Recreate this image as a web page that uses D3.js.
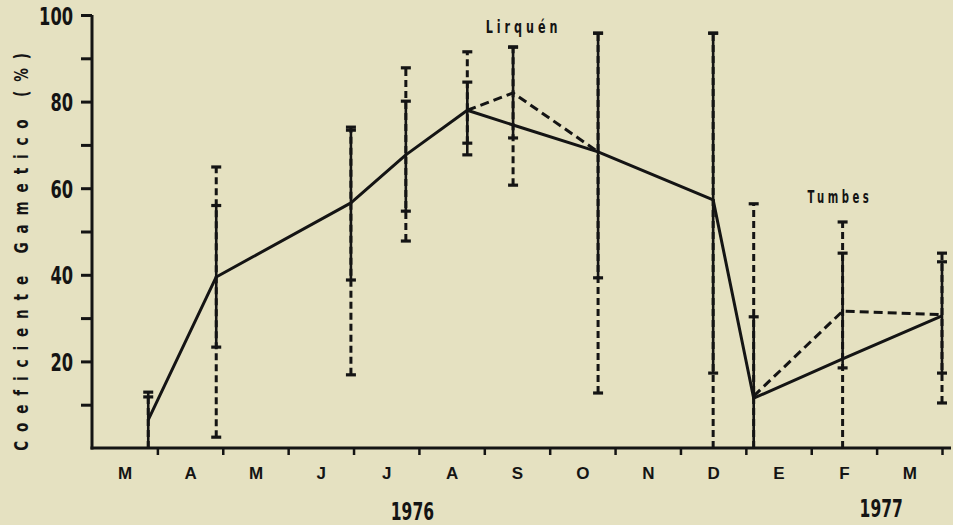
<!DOCTYPE html>
<html>
<head>
<meta charset="utf-8">
<script src="https://cdn.jsdelivr.net/npm/d3@7"></script>
<style>
  html, body { margin: 0; padding: 0; background: #e5e1c1; }
  svg { display: block; }
</style>
</head>
<body>
<svg id="chart" width="953" height="525"></svg>
<script>
// ---- data ----
const monthLabels = ["M", "A", "M", "J", "J", "A", "S", "O", "N", "D", "E", "F", "M"];
const yTicks = [10, 20, 30, 40, 50, 60, 70, 80, 90, 100];
const yTickLabels = [20, 40, 60, 80, 100];
// sampling positions, in months from 1 March 1976
const sampleMonth = [0.86, 1.90, 3.96, 4.80, 5.74, 6.44, 7.74, 9.50, 10.12, 11.48, 13.0];
const solidMean  = [6.5, 39.5, 56.6, 67.7, 78.0, 74.6, 68.4, 57.3, 11.5, 20.6, 30.5];
const dashedMean = [null, null, null, null, 78.0, 82.0, 68.4, null, 12.0, 31.6, 30.8];
const solidLow   = [0, 23.3, 38.8, 54.7, 67.7, 71.6, 39.3, 17.3, 0, 18.5, 17.3];
const solidHigh  = [12.9, 56.0, 73.4, 80.1, 84.5, 92.6, 95.8, 95.8, 30.3, 45.0, 43.0];
const dashedLow  = [0, 2.5, 16.9, 47.8, 70.4, 60.7, 12.7, 0, 0, 0, 10.4];
const dashedHigh = [11.8, 64.9, 74.1, 87.8, 91.5, 92.6, 95.8, 95.8, 56.4, 52.2, 45.0];
const yearLabels = ["1976", "1977"];
const yearAt = [4.9, 12.07];
const siteLabels = ["Lirquén", "Tumbes"];
const siteAt = [6.6, 11.44];
const siteLevel = [95.8, 56.6];
const yTitle = "Coeficiente Gametico (%)";

// ---- layout ----
const W = 953, H = 525;
const ink = "#141414";
const cond = "'DejaVu Sans', 'Liberation Sans', sans-serif";
const svg = d3.select("#chart");

const x = d3.scaleLinear().domain([0, 13]).range([92, 942]);
const y = d3.scaleLinear().domain([0, 100]).range([448, 15]);

// condensed look: squeeze glyphs to a given per-character advance
function condensed(sel, size, perChar, spacing) {
  sel.style("font-family", cond)
    .style("font-weight", "bold")
    .style("font-size", size + "px")
    .style("letter-spacing", (spacing || 0) + "px")
    .attr("lengthAdjust", "spacingAndGlyphs")
    .attr("textLength", function () { return this.textContent.length * perChar; });
}

// y axis
const yAxis = d3.axisLeft(y)
  .tickValues(yTicks)
  .tickSize(11)
  .tickSizeOuter(0)
  .tickPadding(8)
  .tickFormat(d => yTickLabels.includes(d) ? d : "");
const gy = svg.append("g").attr("transform", `translate(${x.range()[0]},0)`).call(yAxis);
gy.select(".domain").attr("stroke", ink).attr("stroke-width", 3).attr("d", `M0,${y(100)}V${y(0) + 1.5}`);
gy.selectAll(".tick line").attr("stroke", ink).attr("stroke-width", 3);
gy.selectAll(".tick text")
  .attr("fill", ink)
  .attr("dy", "0.36em")
  .call(condensed, 25, 11.3);

// x axis: month boundary ticks
const xAxis = d3.axisBottom(x)
  .tickValues(d3.range(1, 14))
  .tickSize(7)
  .tickSizeOuter(0)
  .tickFormat("");
const gx = svg.append("g").attr("transform", `translate(0,${y(0)})`).call(xAxis);
gx.select(".domain").attr("stroke", ink).attr("stroke-width", 3)
  .attr("d", `M${x.range()[0] - 1.5},0H${W - 2}`);
gx.selectAll(".tick line").attr("stroke", ink).attr("stroke-width", 2.5);

// month labels
const xLab = d3.axisBottom(x)
  .tickValues(d3.range(0, 13).map(i => i + 0.5))
  .tickSize(0)
  .tickPadding(19)
  .tickFormat((d, i) => monthLabels[i]);
const gxl = svg.append("g").attr("transform", `translate(0,${y(0)})`).call(xLab);
gxl.select(".domain").remove();
gxl.selectAll(".tick text")
  .attr("fill", ink)
  .style("font-family", "'Liberation Sans', Arial, sans-serif")
  .style("font-weight", "bold")
  .style("font-size", "17px");

// year labels
svg.selectAll(".year").data(yearLabels).join("text")
  .attr("class", "year")
  .attr("x", (d, i) => x(yearAt[i]))
  .attr("y", (d, i) => i === 0 ? 520 : 517)
  .attr("text-anchor", "middle")
  .attr("fill", ink)
  .text(d => d)
  .call(condensed, 25, 10.8);

// y title (condensed by a horizontal squeeze, widely letter-spaced)
svg.append("text")
  .attr("transform", `translate(28,${(40 + 455) / 2}) rotate(-90) scale(0.68,1)`)
  .attr("text-anchor", "middle")
  .attr("fill", ink)
  .style("font-family", cond)
  .style("font-weight", "bold")
  .style("font-size", "20px")
  .style("letter-spacing", "13px")
  .text(yTitle);

// ---- error bars ----
const idx = d3.range(sampleMonth.length);
const capW = 5;
function bars(low, high, dashed) {
  const g = svg.append("g");
  g.selectAll("line.bar").data(idx).join("line")
    .attr("class", "bar")
    .attr("x1", i => x(sampleMonth[i])).attr("x2", i => x(sampleMonth[i]))
    .attr("y1", i => y(low[i])).attr("y2", i => y(high[i]))
    .attr("stroke", ink)
    .attr("stroke-width", dashed ? 3 : 2.6)
    .attr("stroke-dasharray", dashed ? "7,4" : null);
  const caps = [];
  idx.forEach(i => {
    if (low[i] > 0) caps.push([i, low[i]]);
    if (high[i] > 0) caps.push([i, high[i]]);
  });
  g.selectAll("line.cap").data(caps).join("line")
    .attr("class", "cap")
    .attr("x1", d => x(sampleMonth[d[0]]) - capW).attr("x2", d => x(sampleMonth[d[0]]) + capW)
    .attr("y1", d => y(d[1])).attr("y2", d => y(d[1]))
    .attr("stroke", ink)
    .attr("stroke-width", 3.2);
}
bars(dashedLow, dashedHigh, true);
bars(solidLow, solidHigh, false);

// ---- series lines ----
const lineSolid = d3.line()
  .x(i => x(sampleMonth[i]))
  .y(i => y(solidMean[i]));
svg.append("path")
  .datum(idx)
  .attr("d", lineSolid)
  .attr("fill", "none")
  .attr("stroke", ink)
  .attr("stroke-width", 3)
  .attr("stroke-linejoin", "round");

const lineDashed = d3.line()
  .defined(i => dashedMean[i] !== null)
  .x(i => x(sampleMonth[i]))
  .y(i => y(dashedMean[i]));
svg.append("path")
  .datum(idx)
  .attr("d", lineDashed)
  .attr("fill", "none")
  .attr("stroke", ink)
  .attr("stroke-width", 3)
  .attr("stroke-dasharray", "9,5");

// site labels
svg.selectAll(".site").data(siteLabels).join("text")
  .attr("class", "site")
  .attr("x", (d, i) => x(siteAt[i]))
  .attr("y", (d, i) => y(siteLevel[i]))
  .attr("text-anchor", "middle")
  .attr("fill", ink)
  .text(d => d)
  .call(condensed, 17, 10.8, 6);
</script>
</body>
</html>
